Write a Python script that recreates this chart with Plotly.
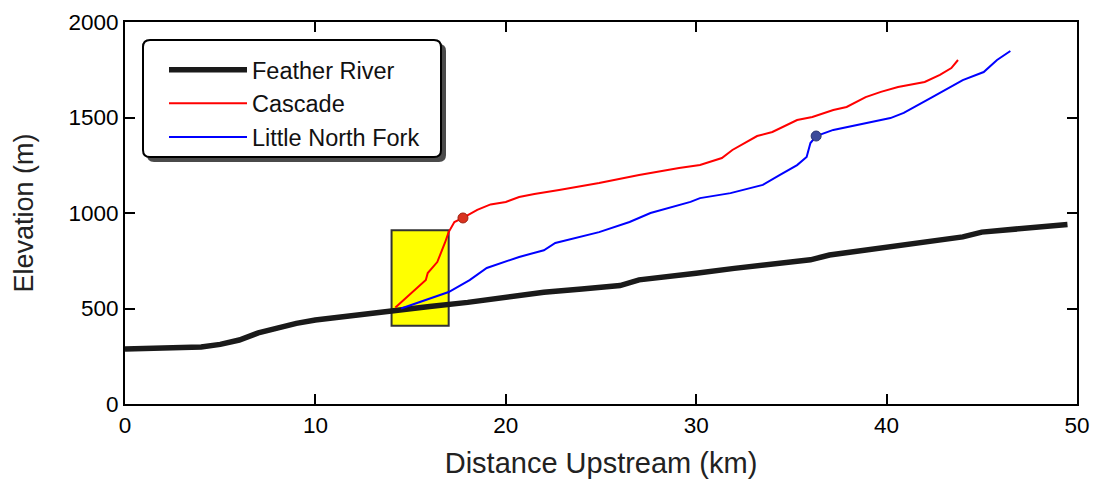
import plotly.graph_objects as go

# Feather River main stem profile
feather_x = [0, 2, 4, 5, 6, 7, 8, 9, 10, 12, 14, 16, 18, 20, 22, 24, 26, 27, 28, 30, 32, 34, 36, 37, 40, 42, 44, 45, 47, 49.5]
feather_y = [288, 293, 298, 312, 335, 372, 400, 422, 440, 465, 490, 510, 532, 558, 585, 602, 620, 650, 660, 685, 710, 730, 755, 780, 820, 850, 875, 900, 920, 940]

# Cascade tributary
cascade_x = [14.2, 14.8, 15.4, 15.8, 15.9, 16.4, 16.8, 17.0, 17.3, 17.75, 18.5, 19.2, 20.0, 20.7, 21.5, 22.8, 24.9, 27.0, 29.1, 30.2, 31.35, 31.9, 33.2, 34.0, 35.3, 36.1, 37.2, 37.9, 38.9, 39.7, 40.6, 42.0, 42.8, 43.4, 43.75]
cascade_y = [505, 560, 615, 649, 686, 743, 843, 900, 953, 974, 1016, 1045, 1058, 1084, 1100, 1120, 1157, 1199, 1236, 1251, 1288, 1330, 1403, 1424, 1487, 1503, 1539, 1555, 1607, 1634, 1660, 1686, 1723, 1759, 1801]

# Little North Fork tributary
lnf_x = [14.5, 15.0, 16.0, 17.0, 18.1, 19.0, 20.7, 22.0, 22.6, 24.9, 26.5, 27.6, 29.7, 30.2, 31.8, 33.5, 34.4, 35.3, 35.8, 36.0, 36.3, 37.2, 40.2, 40.9, 42.4, 44.0, 45.1, 45.8, 46.5]
lnf_y = [500, 518, 550, 586, 649, 712, 770, 805, 843, 900, 953, 1000, 1058, 1078, 1104, 1147, 1199, 1251, 1293, 1366, 1403, 1435, 1497, 1524, 1607, 1696, 1738, 1801, 1848]

# Knickpoint markers
knick_cascade = (17.75, 974)
knick_lnf = (36.3, 1403)

# Highlighted confluence box
box_x = [14.0, 17.0]
box_y = [410, 910]

x_ticks = [0, 10, 20, 30, 40, 50]
y_ticks = [0, 500, 1000, 1500, 2000]

FONT = "Liberation Sans, Arial, sans-serif"

# plot area in pixels (for placing the legend frame)
L, R, T, B = 125, 1077, 22, 404


def px(x):
    return (x - L) / (R - L)


def py(y):
    return (B - y) / (B - T)


def rounded_path(x0, y0, x1, y1, r):
    pts = [
        f"M{px(x0 + r)},{py(y0)}",
        f"L{px(x1 - r)},{py(y0)}",
        f"Q{px(x1)},{py(y0)} {px(x1)},{py(y0 + r)}",
        f"L{px(x1)},{py(y1 - r)}",
        f"Q{px(x1)},{py(y1)} {px(x1 - r)},{py(y1)}",
        f"L{px(x0 + r)},{py(y1)}",
        f"Q{px(x0)},{py(y1)} {px(x0)},{py(y1 - r)}",
        f"L{px(x0)},{py(y0 + r)}",
        f"Q{px(x0)},{py(y0)} {px(x0 + r)},{py(y0)}",
        "Z",
    ]
    return " ".join(pts)


fig = go.Figure()

fig.add_shape(type="rect", xref="x", yref="y", x0=box_x[0], x1=box_x[1], y0=box_y[0], y1=box_y[1],
              fillcolor="#ffff00", line=dict(color="#333333", width=2), layer="below")

fig.add_trace(go.Scatter(x=feather_x, y=feather_y, mode="lines", name="Feather River",
                         line=dict(color="#1a1a1a", width=5.5)))
fig.add_trace(go.Scatter(x=cascade_x, y=cascade_y, mode="lines", name="Cascade",
                         line=dict(color="#ff0000", width=2)))
fig.add_trace(go.Scatter(x=lnf_x, y=lnf_y, mode="lines", name="Little North Fork",
                         line=dict(color="#0000ff", width=2)))
fig.add_trace(go.Scatter(x=[knick_cascade[0]], y=[knick_cascade[1]], mode="markers", showlegend=False,
                         marker=dict(color="#d9321f", size=10, line=dict(color="#a02010", width=1))))
fig.add_trace(go.Scatter(x=[knick_lnf[0]], y=[knick_lnf[1]], mode="markers", showlegend=False,
                         marker=dict(color="#3b4a9a", size=10, line=dict(color="#2a3570", width=1))))

# legend frame: shadow + rounded white box
fig.add_shape(type="path", xref="paper", yref="paper", path=rounded_path(147, 44, 446, 162, 7),
              fillcolor="#4a4a4a", line=dict(width=0), layer="above")
fig.add_shape(type="path", xref="paper", yref="paper", path=rounded_path(143, 40, 441, 157, 7),
              fillcolor="white", line=dict(color="black", width=2), layer="above")

axis_common = dict(showline=True, linecolor="black", linewidth=2, mirror="allticks",
                   ticks="inside", ticklen=10, tickwidth=1.5, tickcolor="black",
                   showgrid=False, zeroline=False, automargin=False,
                   tickfont=dict(family=FONT, size=22.5, color="black"))

fig.update_xaxes(range=[0, 50], tickvals=x_ticks,
                 title=dict(text="Distance Upstream (km)", font=dict(family=FONT, size=29, color="#222222"), standoff=16),
                 **axis_common)
fig.update_yaxes(range=[0, 2000], tickvals=y_ticks,
                 title=dict(text="Elevation (m)", font=dict(family=FONT, size=27, color="#222222"), standoff=27),
                 **axis_common)

fig.update_layout(
    width=1104, height=482,
    margin=dict(l=125, r=27, t=22, b=78),
    paper_bgcolor="white", plot_bgcolor="white",
    font=dict(family=FONT, color="black"),
    legend=dict(x=px(164), y=py(48), xanchor="left", yanchor="top",
                bgcolor="rgba(0,0,0,0)", borderwidth=0,
                font=dict(family=FONT, size=23.5, color="#111111"),
                itemwidth=78, tracegroupgap=0),
)

fig.write_html("out.html")
